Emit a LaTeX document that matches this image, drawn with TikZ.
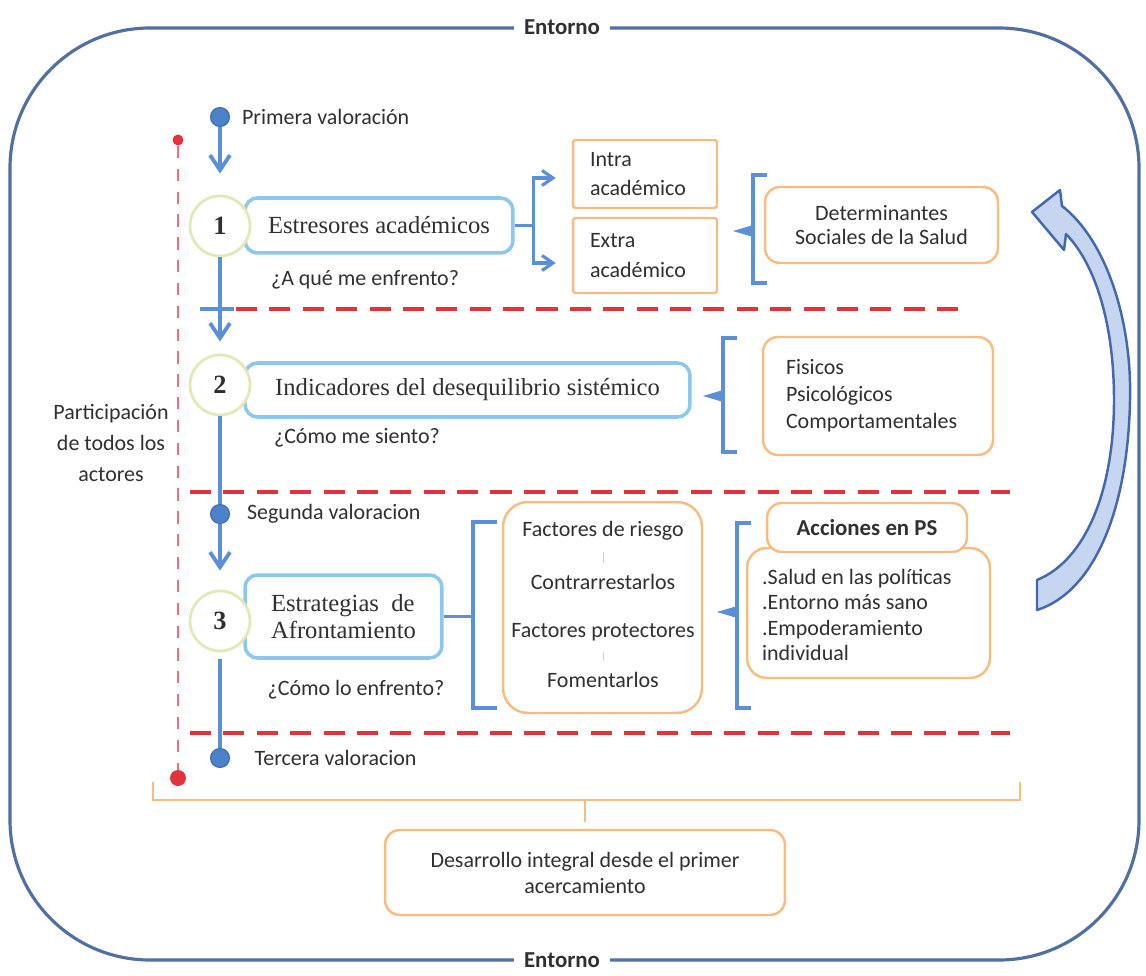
\documentclass[tikz,border=0pt]{standalone}
\usepackage{fontspec}
\setmainfont{Carlito}
\newfontfamily\cambr{Liberation Serif}
\usetikzlibrary{arrows.meta,calc,positioning}
\definecolor{marco}{HTML}{5070A0}
\definecolor{azul}{HTML}{5B8FD8}
\definecolor{azulosc}{HTML}{3D68A8}
\definecolor{azulpunto}{HTML}{4C82CC}
\definecolor{azulcaja}{HTML}{8CC8EE}
\definecolor{naranja}{HTML}{F6BC80}
\definecolor{rojo}{HTML}{E2323C}
\definecolor{pasoborde}{HTML}{E4E8B8}
\definecolor{txt}{HTML}{303030}
\definecolor{burbuja}{HTML}{C6D6F0}
\definecolor{burbujaborde}{HTML}{4468B0}

\begin{document}
\begin{tikzpicture}[x=0.02cm,y=-0.02cm,
  every node/.style={font=\fontsize{12.5}{15}\selectfont,text=txt},
  hito/.style={circle,draw=pasoborde,line width=1.6pt,fill=white,minimum size=1.2cm,inner sep=0pt,font=\cambr\fontsize{15}{15}\selectfont\bfseries},
  punto/.style={circle,draw=azulosc,fill=azulpunto,minimum size=0.38cm,inner sep=0pt,line width=0.6pt},
  lbl/.style={inner sep=1pt},
  cajaazul/.style={draw=azulcaja,line width=2pt,rounded corners=2.5mm,fill=white,font=\cambr\fontsize{14}{15.5}\selectfont},
  cajanar/.style={draw=naranja,line width=1.4pt,rounded corners=3mm,fill=white},
  linea/.style={draw=azul,line width=2.2pt},
  flecha/.style={linea,-{Straight Barb[length=3mm,width=4mm]}},
  flechita/.style={linea,line width=1.8pt,-{Straight Barb[length=2.2mm,width=3mm]}},
  llave/.style={draw=azul,line width=2pt},
  llavenar/.style={draw=naranja,line width=1.6pt},
  corte/.style={draw=rojo,line width=1.9pt,dash pattern=on 12pt off 7pt},
  cortev/.style={draw=rojo!70,line width=0.8pt,dash pattern=on 7pt off 6pt},
  entorno/.style={fill=white,inner xsep=6pt,font=\fontsize{13}{15}\selectfont\bfseries}]
  \useasboundingbox (0,0) rectangle (1146,976);

  % marco exterior
  \draw[marco,line width=1.8pt,rounded corners=2.8cm] (10,28) rectangle (1139,960);
  \node[entorno] (ent1) at (562,27) {Entorno};
  \node[entorno] (ent2) at (562,960) {Entorno};

  % linea de participacion
  \node[circle,fill=rojo,inner sep=0pt,minimum size=0.22cm] (rtop) at (178,140) {};
  \node[circle,fill=rojo,inner sep=0pt,minimum size=0.32cm] (rbot) at (178,778) {};
  \draw[cortev] (rtop) -- (rbot);
  \node[align=center,font=\fontsize{12.5}{17.5}\selectfont] (part) at (111,443) {Participación\\de todos los\\actores};

  % cortes entre etapas
  \draw[corte] (236,309) -- (965,309);
  \draw[corte] (190,492) -- (1010,492);
  \draw[corte] (190,733) -- (1010,733);
  \draw[linea] (200,309) -- (234,309);

  % etapa 1
  \node[cajaazul,minimum width=5.36cm,minimum height=1.1cm] (e1) at (379,225.5) {Estresores académicos};
  \node[punto] (v1) at (220,117) {};
  \node[lbl,right=0.2cm of v1] (tv1) {Primera valoración};
  \node[hito] (p1) at (220,226) {1};
  \node (q1) at (365,280) {¿A qué me enfrento?};
  \node[cajanar,rounded corners=1pt,minimum width=2.88cm,minimum height=1.36cm,text width=2.2cm,align=left,font=\fontsize{12.5}{17}\selectfont] (intra) at (645,174) {Intra\\académico};
  \node[cajanar,rounded corners=1pt,minimum width=2.88cm,minimum height=1.5cm,text width=2.2cm,align=left,font=\fontsize{12.5}{17}\selectfont] (extra) at (645,255.5) {Extra\\académico};
  \draw[linea,line width=1.8pt] (e1.east) -- ++(19,0) coordinate (rama);
  \draw[flechita] (rama) |- ([xshift=-0.32cm,yshift=-0.08cm]intra.west);
  \draw[flechita] (rama) |- ([xshift=-0.32cm,yshift=-0.15cm]extra.west);
  \node[cajanar,minimum width=4.66cm,minimum height=1.52cm,align=center,font=\fontsize{12.5}{14}\selectfont] (dsalud) at (881.5,225) {Determinantes\\Sociales de la Salud};

  % etapa 2
  \node[cajaazul,minimum width=8.9cm,minimum height=1.08cm] (e2) at (467.5,390) {Indicadores del desequilibrio sistémico};
  \node[hito] (p2) at (220,385) {2};
  \node (q2) at (357,438) {¿Cómo me siento?};
  \node[cajanar,minimum width=4.6cm,minimum height=2.36cm,text width=3.68cm,align=left,font=\fontsize{12.5}{15.4}\selectfont] (fpsico) at (878,396) {Fisicos\\Psicológicos\\Comportamentales};

  % etapa 3
  \node[punto] (v2) at (220,514) {};
  \node[lbl,right=0.3cm of v2] (tv2) {Segunda valoracion};
  \node[cajaazul,minimum width=3.94cm,minimum height=1.66cm,align=left] (e3) at (343.5,616.5) {Estrategias\hspace{7pt}de\\Afrontamiento};
  \node[hito] (p3) at (220,621) {3};
  \node (q3) at (356,690) {¿Cómo lo enfrento?};
  \node[cajanar,rounded corners=5mm,minimum width=3.98cm,minimum height=4.22cm] (fact) at (602.5,607.5) {};
  \node (fr) at (603,531) {Factores de riesgo};
  \node (co) at (603,582) {Contrarrestarlos};
  \node (fp) at (603,632) {Factores protectores};
  \node (fo) at (603,680) {Fomentarlos};
  \draw[gray!35,line width=0.5pt,shorten <=3pt,shorten >=3pt] (fr) -- (co);
  \draw[gray!35,line width=0.5pt,shorten <=3pt,shorten >=3pt] (fp) -- (fo);
  \node[cajanar,rounded corners=4mm,minimum width=4.86cm,minimum height=2.6cm] (acc) at (868.5,613) {};
  \node[anchor=west,inner sep=0pt,align=left,font=\fontsize{12.5}{14.4}\selectfont] (acct) at ([xshift=0.32cm,yshift=-0.04cm]acc.west) {.Salud en las políticas\\.Entorno más sano\\.Empoderamiento\\individual};
  \node[cajanar,minimum width=4cm,minimum height=0.98cm,font=\fontsize{13}{15}\selectfont\bfseries] (acch) at (867,527.5) {Acciones en PS};
  \node[punto] (v3) at (220,758) {};
  \node[lbl,right=0.45cm of v3] (tv3) {Tercera valoracion};

  % llaves
  \foreach \xl/\ya/\yb/\ym in {753/175/283/231, 723/338/452/396, 737/523/708/612}{
    \draw[llave] (\xl+14,\ya) -- (\xl,\ya) -- (\xl,\yb) -- (\xl+14,\yb);
    \draw[llave,fill=azul,line width=1pt] (\xl,\ym-5) -- (\xl-17,\ym) -- (\xl,\ym+5) -- cycle;
  }
  \draw[llave] (497,522) -- (473,522) -- (473,708) -- (497,708);
  \draw[llave] (e3.east) -- ++(31,0);

  % linea de tiempo
  \draw[flecha,shorten >=0.42cm] (v1) -- (p1);
  \draw[flecha,shorten >=0.24cm] (p1) -- (p2);
  \draw[linea] (p2) -- (v2);
  \draw[flecha,shorten >=0.38cm] (v2) -- (p3);
  \draw[linea,shorten <=0.14cm] (p3) -- (v3);

  % retorno
  \filldraw[fill=burbuja,draw=burbujaborde,line width=1.4pt,line join=round]
    (1032,212) -- (1060,190) -- (1062,206)
    .. controls (1106,240) and (1132,320) .. (1130,400)
    .. controls (1128,510) and (1094,592) .. (1037,610)
    -- (1037,580)
    .. controls (1086,560) and (1114,490) .. (1114,400)
    .. controls (1114,325) and (1096,265) .. (1066,234)
    -- (1064,250) -- cycle;

  % desarrollo integral
  \node[cajanar,minimum width=8cm,minimum height=1.7cm,align=center,font=\fontsize{12.5}{14.8}\selectfont] (des) at (585,872.5) {Desarrollo integral desde el primer\\acercamiento};
  \draw[llavenar] (153,782) -- (153,800) -- (1020,800) -- (1020,782);
  \coordinate (medio) at (585,800);
  \draw[llavenar] (medio) -- ([yshift=0.14cm]des.north);
\end{tikzpicture}
\end{document}
